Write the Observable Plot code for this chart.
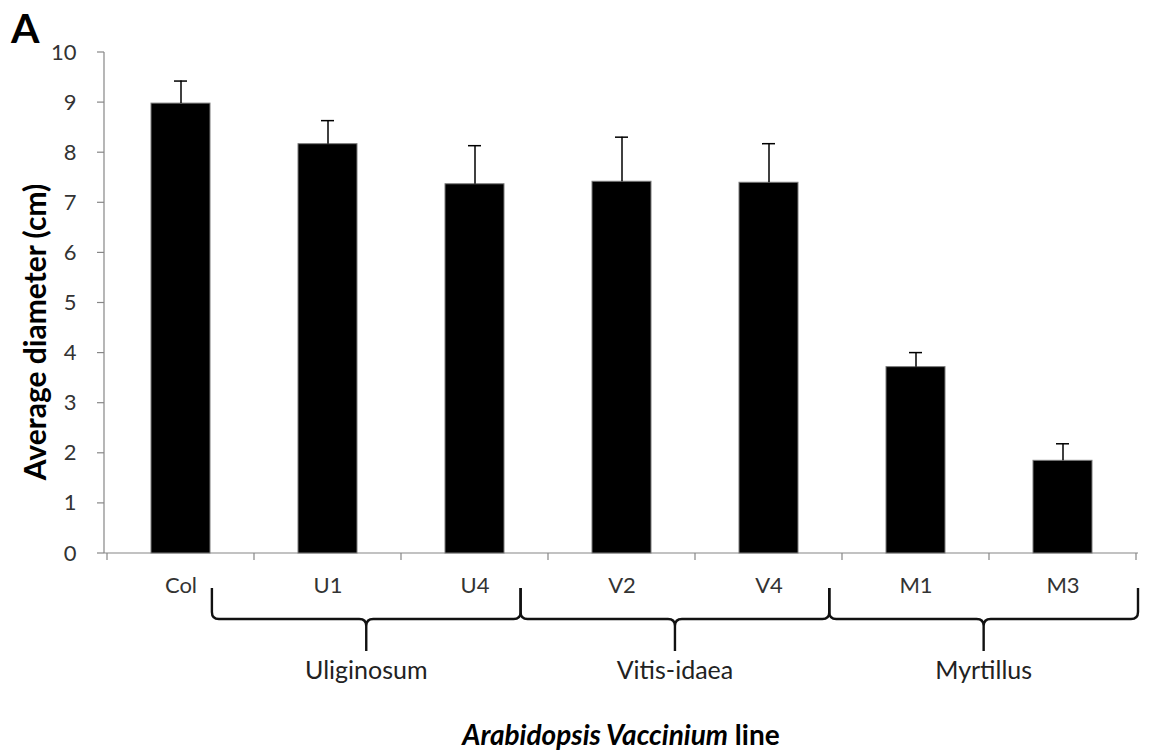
<!DOCTYPE html>
<html>
<head>
<meta charset="utf-8">
<script src="https://cdn.jsdelivr.net/npm/d3@7"></script>
<script src="https://cdn.jsdelivr.net/npm/@observablehq/plot@0.6"></script>
<style>
  body { margin: 0; background: #fff; }
  #chart svg { display: block; }
</style>
</head>
<body>
<div id="chart"></div>
<script>
// Rosette diameter per Arabidopsis line (mean ± SD)
const lines = ["Col", "U1", "U4", "V2", "V4", "M1", "M3"];
const diameters = [8.98, 8.17, 7.37, 7.42, 7.40, 3.72, 1.85];
const errors = [0.45, 0.47, 0.77, 0.89, 0.78, 0.29, 0.34];

// Vaccinium species groups shown with braces under the axis
const groupNames = ["Uliginosum", "Vitis-idaea", "Myrtillus"];
const groupMembers = [["U1", "U4"], ["V2", "V4"], ["M1", "M3"]];

const yTicks = [0, 1, 2, 3, 4, 5, 6, 7, 8, 9, 10];
const yTitle = "Average diameter (cm)";
const panelLetter = "A";

const data = lines.map((line, i) => ({line, mean: diameters[i], err: errors[i]}));

const axisGray = "#868686";
const fontFamily = "Lato, 'Open Sans', sans-serif";
const tickFontSize = 22;

// Axis lines, boundary ticks, group braces and titles, drawn with the plot's scales
function annotations(index, scales, values, dims) {
  const {width, height, marginLeft, marginRight} = dims;
  const x = scales.x, y = scales.y;
  const bw = x(lines[1]) - x(lines[0]);
  const x0 = marginLeft, x1 = width - marginRight;
  const y0 = y(0);
  const g = d3.create("svg:g");

  // axis lines
  g.append("line").attr("x1", x0).attr("x2", x1).attr("y1", y0).attr("y2", y0)
    .attr("stroke", axisGray).attr("stroke-width", 1.2);
  g.append("line").attr("x1", x0).attr("x2", x0).attr("y1", y(10)).attr("y2", y0)
    .attr("stroke", axisGray).attr("stroke-width", 1.2);

  // y ticks
  for (const t of yTicks) {
    g.append("line").attr("x1", x0 - 7).attr("x2", x0).attr("y1", y(t)).attr("y2", y(t))
      .attr("stroke", axisGray).attr("stroke-width", 1.2);
  }
  // x ticks at category boundaries
  for (let i = 0; i <= lines.length; i++) {
    const xb = i < lines.length ? x(lines[i]) : x(lines[lines.length - 1]) + bw;
    g.append("line").attr("x1", xb).attr("x2", xb).attr("y1", y0).attr("y2", y0 + 7)
      .attr("stroke", axisGray).attr("stroke-width", 1.2);
  }

  // braces, laid end to end from the right end of the axis
  const top = y0 + 35, hz = y0 + 66, tip = y0 + 98, r = 7;
  let right = x1;
  const spans = [];
  for (let k = groupMembers.length - 1; k >= 0; k--) {
    const w = groupMembers[k].length * bw * 1.05;
    spans[k] = [right - w, right];
    right -= w;
  }
  spans.forEach(([L, R], k) => {
    const M = (L + R) / 2;
    const p = `M${L},${top} L${L},${hz - r} Q${L},${hz} ${L + r},${hz} L${M - r},${hz} Q${M},${hz} ${M},${hz + r} L${M},${tip}`
            + ` M${M},${hz + r} Q${M},${hz} ${M + r},${hz} L${R - r},${hz} Q${R},${hz} ${R},${hz - r} L${R},${top}`;
    g.append("path").attr("d", p).attr("fill", "none").attr("stroke", "#111")
      .attr("stroke-width", 2.4).attr("stroke-linejoin", "round");
    g.append("text").attr("x", M).attr("y", y0 + 126).attr("text-anchor", "middle")
      .attr("font-size", 25).attr("fill", "#222").text(groupNames[k]);
  });

  // y axis title
  g.append("text")
    .attr("transform", `translate(46,332) rotate(-90)`)
    .attr("text-anchor", "middle").attr("font-size", 30).attr("font-weight", "bold")
    .attr("fill", "#000").text(yTitle);

  // x axis title
  const xt = g.append("text").attr("x", (x0 + x1) / 2).attr("y", height - 5)
    .attr("text-anchor", "middle").attr("font-size", 28).attr("font-weight", "bold").attr("fill", "#000");
  xt.append("tspan").attr("font-style", "italic").text("Arabidopsis Vaccinium");
  xt.append("tspan").text(" line");

  // panel letter
  g.append("text").attr("x", 11).attr("y", 43).attr("text-anchor", "start")
    .attr("font-size", 41).attr("font-weight", "bold").attr("fill", "#000").text(panelLetter);

  return g.node();
}

const chart = Plot.plot({
  width: 1159,
  height: 750,
  marginLeft: 104,
  marginRight: 21,
  marginTop: 52,
  marginBottom: 197,
  style: {fontFamily, fontSize: `${tickFontSize}px`, color: "#333", background: "#fff"},
  x: {domain: lines, padding: 0, label: null, tickSize: 0, tickPadding: 24},
  y: {domain: [0, 10], ticks: yTicks, label: null, tickSize: 0, tickPadding: 28},
  marks: [
    annotations,
    Plot.barY(data, {x: "line", y: "mean", fill: "#000", stroke: "#7a7a7a", strokeWidth: 1, insetLeft: 44, insetRight: 44}),
    Plot.ruleX(data, {x: "line", y1: "mean", y2: d => d.mean + d.err, stroke: "#000", strokeWidth: 1.5}),
    Plot.tickY(data, {x: "line", y: d => d.mean + d.err, stroke: "#000", strokeWidth: 1.5, insetLeft: 67, insetRight: 67})
  ]
});

// tick labels on both axes at the chart's text size
chart.querySelectorAll('g[aria-label*="axis"]').forEach(el => {
  el.setAttribute("font-size", tickFontSize);
  el.querySelectorAll("text, g").forEach(t => t.setAttribute("font-size", tickFontSize));
});

document.getElementById("chart").appendChild(chart);
</script>
</body>
</html>
